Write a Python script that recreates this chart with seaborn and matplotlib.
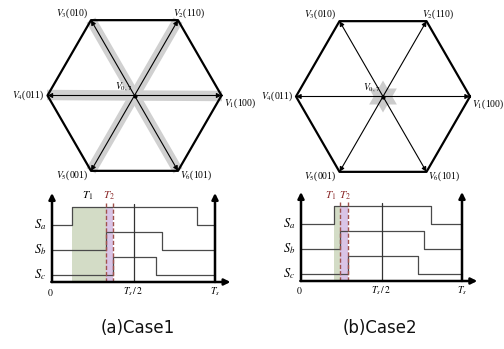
import numpy as np
import pandas as pd
import matplotlib
matplotlib.use('Agg')
import matplotlib.pyplot as plt
import seaborn as sns
from matplotlib.patches import Polygon

sns.set_theme(style='white')
plt.rcParams['font.family'] = ['Liberation Serif', 'DejaVu Serif']
plt.rcParams['mathtext.fontset'] = 'stix'

# ---- data ----
vector_names = ['V_1', 'V_2', 'V_3', 'V_4', 'V_5', 'V_6']
vector_states = ['(100)', '(110)', '(010)', '(011)', '(001)', '(101)']
vector_angles = [0, 60, 120, 180, 240, 300]
channels = ['S_a', 'S_b', 'S_c']
case_titles = ['(a)Case1', '(b)Case2']
rise_case1 = [0.123, 0.331, 0.374]
fall_case1 = [0.890, 0.675, 0.638]
rise_case2 = [0.205, 0.242, 0.292]
fall_case2 = [0.807, 0.764, 0.727]
time_ticks = [0.0, 0.5, 1.0]
time_labels = ['$0$', r'$T_s\,/\,2$', '$T_s$']
interval_labels_case1 = ['$T_1$', '$T_2$']
interval_labels_case2 = ['$T_1$', '$T_2$']

W, H = 504, 349
fig = plt.figure(figsize=(W / 100, H / 100), dpi=100)


def rect(x0, y0, x1, y1):
    return [x0 / W, 1 - y1 / H, (x1 - x0) / W, (y1 - y0) / H]


R = 87.0  # px per unit in hex axes


def draw_hex(cx, cy, full_bands):
    ax = fig.add_axes(rect(cx - 130, cy - 95, cx + 130, cy + 90))
    ax.set_xlim(-130 / R, 130 / R)
    ax.set_ylim(-90 / R, 95 / R)
    ax.axis('off')
    ang = np.deg2rad(vector_angles)
    vx, vy = np.cos(ang), np.sin(ang)
    if full_bands:
        for k in range(3):
            ax.plot([vx[k], vx[k + 3]], [vy[k], vy[k + 3]], color='#d0d0d0',
                    lw=7.5, solid_capstyle='butt', zorder=1)
    else:
        ro, ri = 16 / R, 16 / R / np.sqrt(3)
        pts = []
        for k in range(12):
            a = np.deg2rad(30 + 30 * k)
            r = ro if k % 2 == 0 else ri
            pts.append((r * np.cos(a), r * np.sin(a)))
        ax.add_patch(Polygon(pts, closed=True, color='#cccccc', lw=0, zorder=1))
    hexdf = pd.DataFrame({'x': list(vx) + [vx[0]], 'y': list(vy) + [vy[0]],
                          'o': range(7)})
    sns.lineplot(data=hexdf, x='x', y='y', sort=False, estimator=None,
                 color='black', lw=1.6, ax=ax, zorder=3)
    for k in range(6):
        ax.annotate('', xy=(vx[k], vy[k]), xytext=(0, 0),
                    arrowprops=dict(arrowstyle='-|>', color='black', lw=0.8,
                                    mutation_scale=7, shrinkA=0, shrinkB=0),
                    zorder=4)
    ax.plot([0], [0], 'o', color='black', ms=2, zorder=5)
    # labels
    offs = {0: (2, -8, 'left'), 1: (-5, 7, 'left'), 2: (-3, 7, 'right'),
            3: (-3, 0, 'right'), 4: (-3, -4, 'right'), 5: (2, -4, 'left')}
    for k in range(6):
        dx, dy, ha = offs[k]
        ax.text(vx[k] + dx / R, vy[k] + dy / R,
                '$' + vector_names[k] + '$' + vector_states[k],
                ha=ha, va='center', fontsize=7, color='black')
    ax.text(-11 / R, 8.5 / R, r'$V_{0,7}$', ha='center', va='center',
            fontsize=7, color='black')


def draw_timing(t0px, t1px, axpx, rises, falls):
    sp = t1px - t0px
    ax = fig.add_axes(rect(t0px - 30, 185, t0px + 190, 300))
    ax.set_xlim(-30 / sp, 190 / sp)
    ax.set_ylim(-(300 - axpx), axpx - 185)
    ax.axis('off')
    base = [57, 32, 7]
    amp = 18
    top = 89
    # shading
    ax.fill_between([rises[0], rises[1]], 0, base[0] + amp, color='#d3dcc6',
                    lw=0, zorder=1)
    ax.fill_between([rises[1], rises[2]], 0, base[0] + amp, color='#d9c4e6',
                    lw=0, zorder=1)
    for r in rises[1:]:
        ax.plot([r, r], [0, 79], ls=(0, (3, 1.5)), color='#a0524d', lw=1.0,
                zorder=4)
    # signals
    for i in range(3):
        df = pd.DataFrame({'t': [0, rises[i], falls[i], 1.0],
                           'v': [base[i], base[i] + amp, base[i], base[i]]})
        sns.lineplot(data=df, x='t', y='v', drawstyle='steps-post', sort=False,
                     estimator=None, color='#4a4a4a', lw=0.9, ax=ax, zorder=3)
        ax.text(-12 / sp, base[i], '$' + channels[i] + '$', ha='center',
                va='center', fontsize=9, color='black')
    ax.plot([0.5, 0.5], [0, 78], color='#333333', lw=0.9, zorder=3)
    arrow = dict(arrowstyle='-|>', color='black', lw=1.8, mutation_scale=9,
                 shrinkA=0, shrinkB=0)
    ax.annotate('', xy=(0, top), xytext=(0, 0), arrowprops=arrow, zorder=5)
    ax.annotate('', xy=(1.0, top), xytext=(1.0, 0), arrowprops=arrow, zorder=5)
    ax.annotate('', xy=(1.095, 0), xytext=(-0.004, 0), arrowprops=arrow, zorder=5)
    for t, lab in zip(time_ticks, time_labels):
        ax.text(t - (2 / sp if t == 0 else 0), -10, lab, ha='center',
                va='center', fontsize=7, color='black')
    return ax, sp


# Case 1
draw_hex(134.5, 95.5, True)
ax1, sp1 = draw_timing(52, 215, 282, rise_case1, fall_case1)
ax1.text((88 - 52) / sp1, 86, interval_labels_case1[0], ha='center',
         va='center', fontsize=8, color='black')
ax1.text((109 - 52) / sp1, 86, interval_labels_case1[1], ha='center',
         va='center', fontsize=8, color='#8b2a2a')

# Case 2
draw_hex(383, 96.5, False)
ax2, sp2 = draw_timing(301, 462, 281, rise_case2, fall_case2)
ax2.text((331 - 301) / sp2, 85, interval_labels_case2[0], ha='center',
         va='center', fontsize=8, color='#8b2a2a')
ax2.text((345 - 301) / sp2, 85, interval_labels_case2[1], ha='center',
         va='center', fontsize=8, color='#8b2a2a')

for x, t in zip([138, 380], case_titles):
    fig.text(x / W, 1 - 328 / H, t, ha='center', va='center', fontsize=12,
             family=['DejaVu Sans'], color='#111111')

fig.savefig('out.png', dpi=100)
